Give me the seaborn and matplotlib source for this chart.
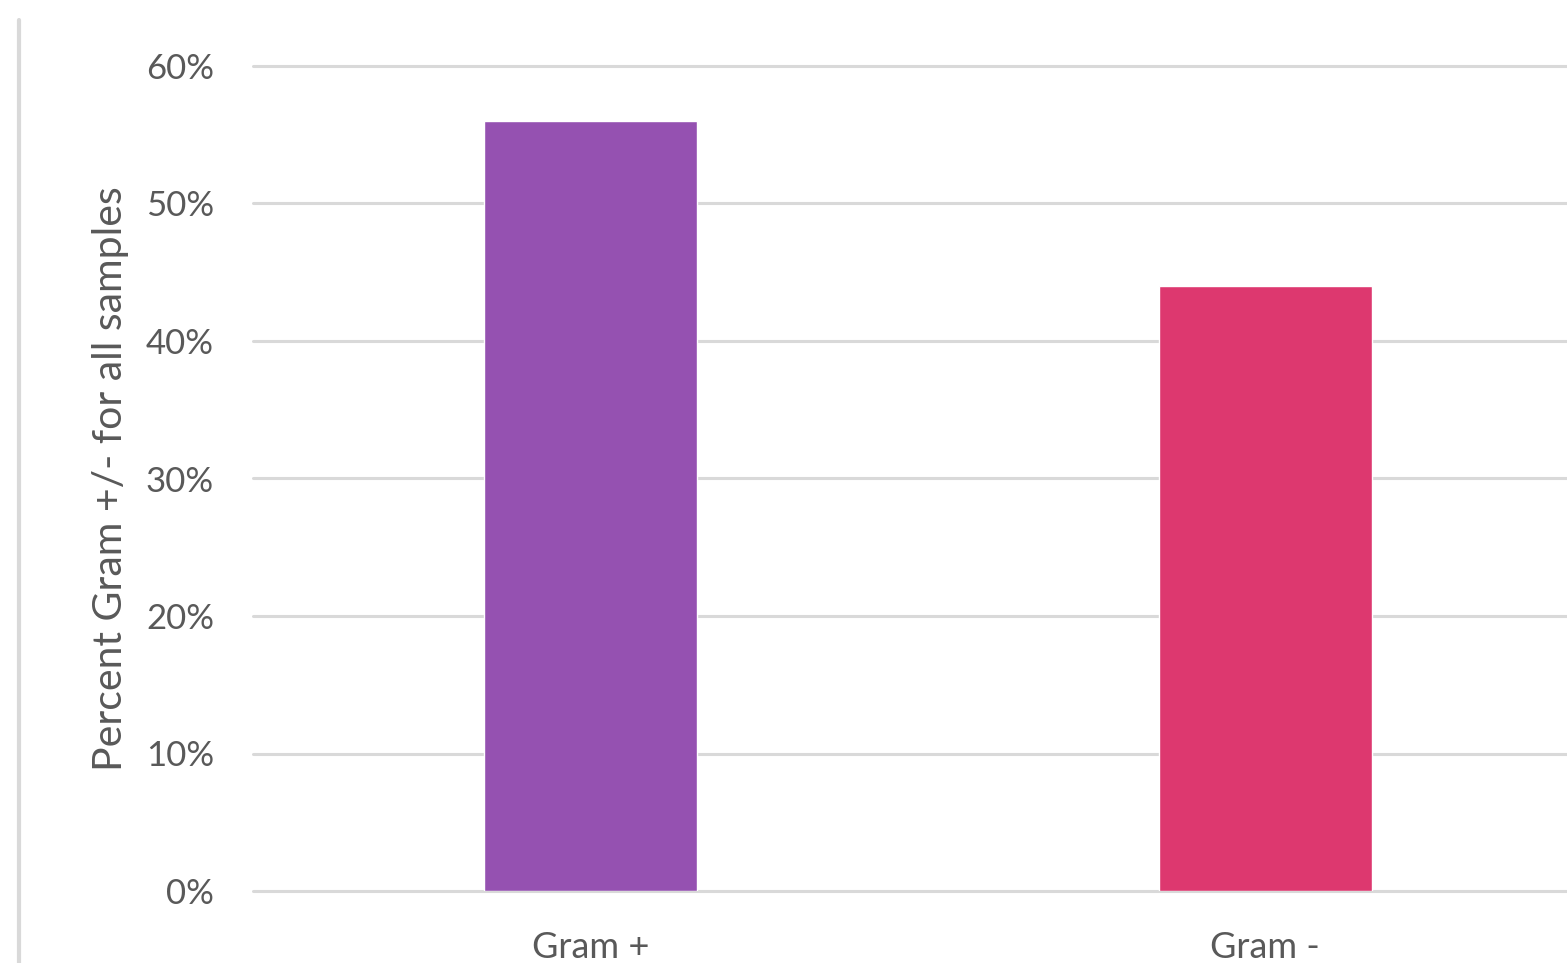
import matplotlib
matplotlib.use("Agg")
import matplotlib.pyplot as plt
from matplotlib.lines import Line2D
from matplotlib.ticker import PercentFormatter
import seaborn as sns
import pandas as pd

# Data
categories = ["Gram +", "Gram -"]
percent = [0.56, 0.44]
bar_colors = ["#9551B1", "#DD386F"]

df = pd.DataFrame({"Group": categories, "Percent": percent})

sns.set_style("white")
plt.rcParams["font.family"] = ["Lato", "DejaVu Sans"]

text_color = "#595959"
grid_color = "#D9D9D9"

fig = plt.figure(figsize=(15.67, 9.63), dpi=100)
ax = fig.add_axes([253 / 1567, 1 - 891 / 963, 1 - 253 / 1567, (891 - 66) / 963])

sns.barplot(data=df, x="Group", y="Percent", hue="Group",
            palette=dict(zip(categories, bar_colors)), width=0.315,
            saturation=1, legend=False, ax=ax)

# Axis styling
ax.set_ylim(0, 0.6)
ax.set_xlim(-0.5, 1.447)
ax.yaxis.set_major_formatter(PercentFormatter(1.0, decimals=0))
ax.set_yticks([0, 0.1, 0.2, 0.3, 0.4, 0.5, 0.6])
ax.yaxis.grid(True, color=grid_color, linewidth=2.2)
for gl in ax.get_ygridlines():
    gl.set_clip_on(False)
ax.set_axisbelow(True)
for s in ax.spines.values():
    s.set_visible(False)
ax.tick_params(axis="y", length=0, pad=28, labelsize=25, labelcolor=text_color)
ax.tick_params(axis="x", length=0, pad=29, labelsize=26, labelcolor=text_color)
ax.set_xlabel("")
ax.set_ylabel("Percent Gram +/- for all samples", fontsize=29.5, color=text_color, labelpad=12)

# Outer chart border on the left
fig.add_artist(Line2D([19 / 1567, 19 / 1567], [0, 1 - 20 / 963],
                      transform=fig.transFigure, color=grid_color, linewidth=3))

fig.savefig("out.png", dpi=100)
